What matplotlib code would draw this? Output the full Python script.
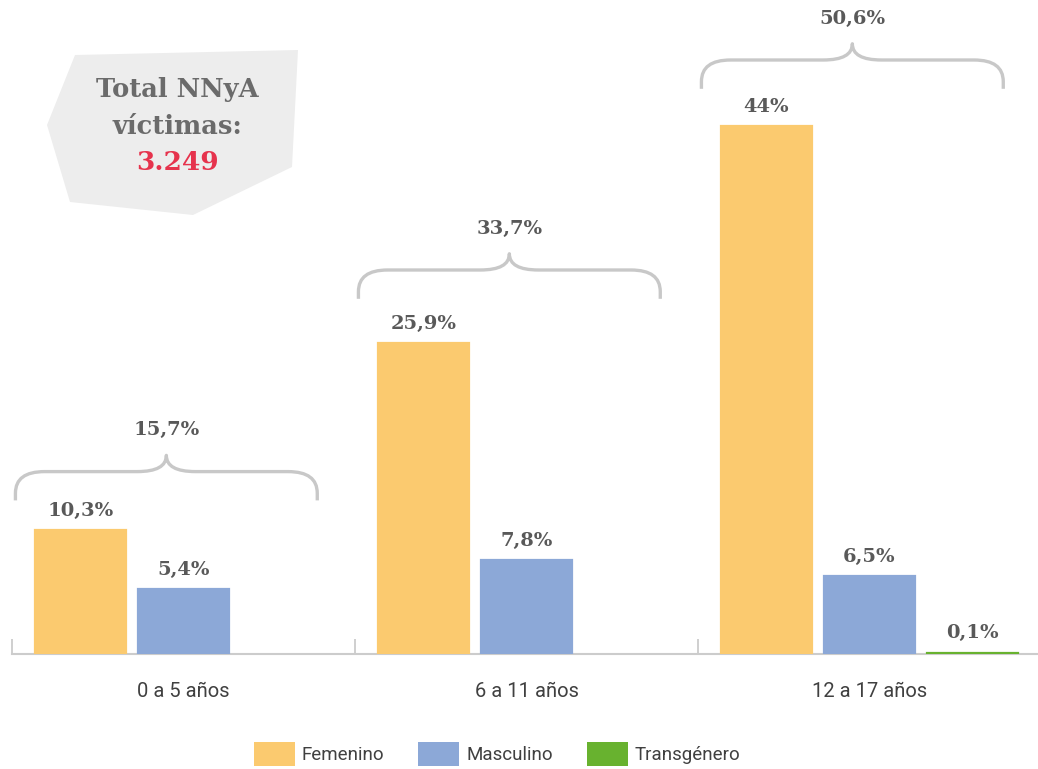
import numpy as np
import matplotlib.pyplot as plt
from matplotlib.path import Path
from matplotlib.patches import PathPatch, Polygon, Patch

# Datos
grupos = ['0 a 5 años', '6 a 11 años', '12 a 17 años']
generos = ['Femenino', 'Masculino', 'Transgénero']
femenino = [10.3, 25.9, 44.0]
masculino = [5.4, 7.8, 6.5]
transgenero = [None, None, 0.1]
totales = [15.7, 33.7, 50.6]
total_victimas = '3.249'

colores = ['#fbca6f', '#8ca8d7', '#68b22f']
gris_txt = '#595959'
gris_eje = '#cccccc'

def fmt(v):
    s = f'{v:.1f}'.replace('.', ',')
    if s.endswith(',0'):
        s = s[:-2]
    return s + '%'

fig = plt.figure(figsize=(10.38, 7.69), dpi=100)
ax = fig.add_axes([12 / 1038, 1 - 654 / 769, 1029 / 1038, 654 / 769])

x = np.arange(len(grupos))
ancho = 0.268
paso = 0.3003
series = [femenino, masculino, transgenero]

for i, (vals, col) in enumerate(zip(series, colores)):
    for j, v in enumerate(vals):
        if v is None:
            continue
        xc = x[j] + (i - 1) * paso
        ax.bar(xc, v, width=ancho, color=col, edgecolor=col, linewidth=1.6, zorder=3)
        ax.annotate(fmt(v), (xc, v), xytext=(0, 14), textcoords='offset points',
                    ha='center', va='center', fontsize=14, fontweight='bold',
                    family='DejaVu Serif', color=gris_txt)

# llaves con el total por grupo
for j, tot in enumerate(totales):
    alto = max(s[j] for s in series if s[j] is not None)
    yb = (alto + tot) / 2 - 0.2
    yh = yb + 2.4
    yt = yb + 3.75
    L = x[j] - 0.49
    R = x[j] + 0.39
    M = (L + R) / 2
    c = 0.085
    verts = [(L, yb), (L, yb + 0.6), (L, yh), (L + c, yh),
             (M - c, yh), (M, yh), (M, yt),
             (M, yh), (M + c, yh),
             (R - c, yh), (R, yh), (R, yb + 0.6), (R, yb)]
    codes = [Path.MOVETO, Path.LINETO, Path.CURVE3, Path.CURVE3,
             Path.LINETO, Path.CURVE3, Path.CURVE3,
             Path.CURVE3, Path.CURVE3,
             Path.LINETO, Path.CURVE3, Path.CURVE3, Path.LINETO]
    ax.add_patch(PathPatch(Path(verts, codes), fill=False, edgecolor='#c8c8c8',
                           lw=2.4, capstyle='butt', joinstyle='round'))
    ax.text(M, yt + 2.1, fmt(tot), ha='center', va='center', fontsize=14,
            fontweight='bold', family='DejaVu Serif', color=gris_txt)

ax.set_xlim(-0.5, 2.5)
ax.set_ylim(0, 654 / 12)
for lado in ['top', 'right', 'left']:
    ax.spines[lado].set_visible(False)
ax.spines['bottom'].set_color(gris_eje)
ax.spines['bottom'].set_linewidth(1.5)
ax.set_yticks([])
ax.set_xticks(x)
ax.set_xticklabels(grupos, fontsize=14.5, family='Roboto', color='#404040')
ax.set_xticks([-0.5, 0.5, 1.5, 2.5], minor=True)
ax.tick_params(axis='x', which='major', length=0, pad=20)
ax.tick_params(axis='x', which='minor', direction='in', length=11,
               width=1.3, color=gris_eje)

# recuadro gris con el total
px = np.array([[75, 55], [298, 50], [292, 167], [193, 215], [70, 202], [47, 125]])
caja = Polygon(np.column_stack([px[:, 0] / 1038, 1 - px[:, 1] / 769]),
               closed=True, transform=fig.transFigure, facecolor='#ededed',
               edgecolor='none', zorder=0)
fig.patches.append(caja)
fig.text(177 / 1038, 1 - 90 / 769, 'Total NNyA', ha='center', va='center',
         fontsize=18.5, fontweight='bold', family='DejaVu Serif', color='#6b6b6b')
fig.text(177 / 1038, 1 - 127 / 769, 'víctimas:', ha='center', va='center',
         fontsize=18.5, fontweight='bold', family='DejaVu Serif', color='#6b6b6b')
fig.text(177 / 1038, 1 - 162 / 769, total_victimas, ha='center', va='center',
         fontsize=19, fontweight='bold', family='DejaVu Serif', color='#e6334d')

# leyenda
manejadores = [Patch(facecolor=c, edgecolor='none') for c in colores]
leg = fig.legend(manejadores, generos, loc='center', ncol=3,
                 bbox_to_anchor=(497 / 1038, 1 - 754 / 769), frameon=False,
                 prop={'family': 'Roboto', 'size': 13.5},
                 handlelength=2.19, handleheight=1.6, handletextpad=0.37,
                 columnspacing=1.8)
for t in leg.get_texts():
    t.set_color('#404040')

plt.savefig('out.png', dpi=100)
